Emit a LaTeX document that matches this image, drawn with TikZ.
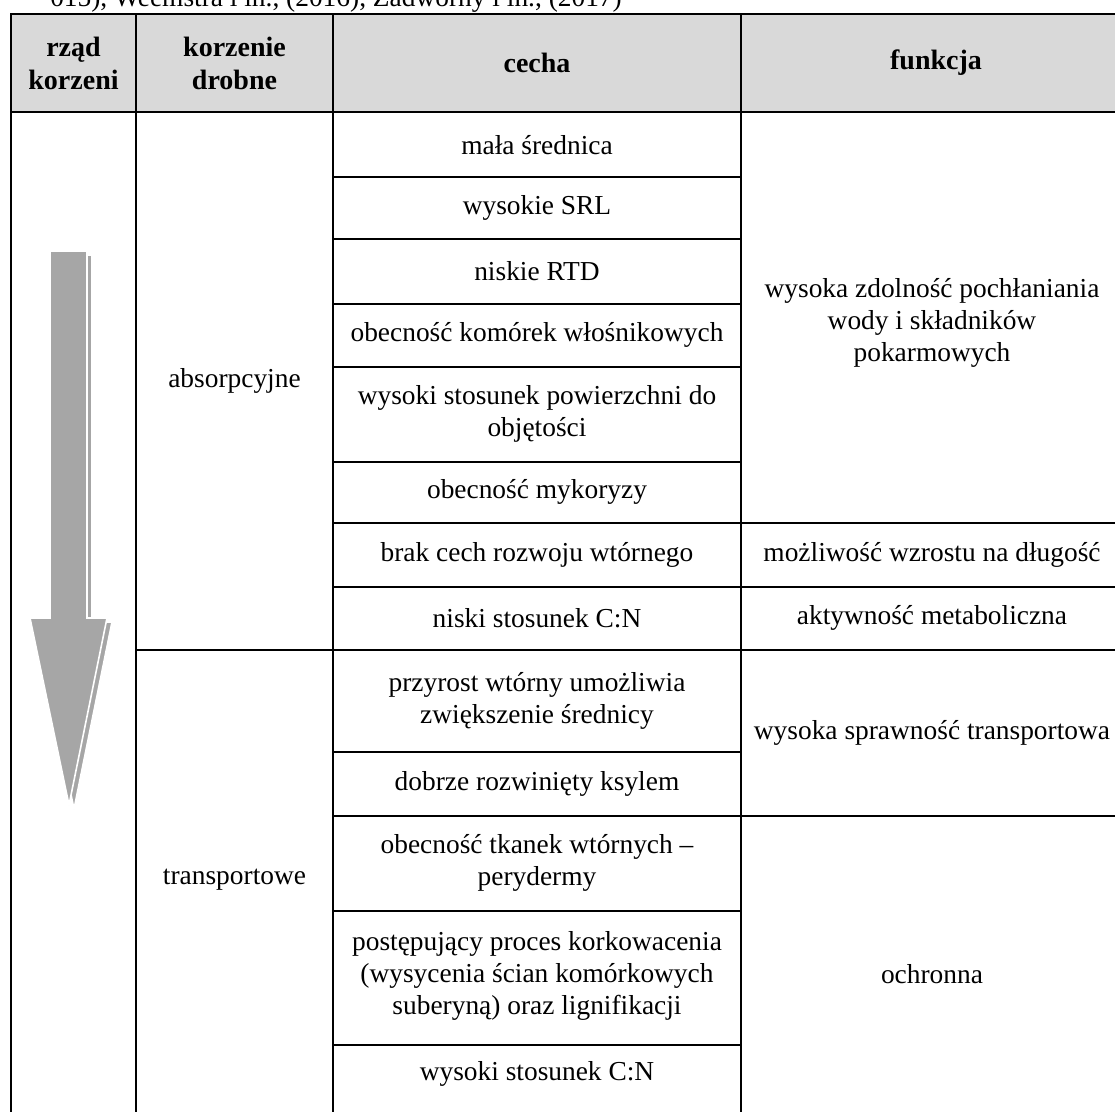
\documentclass[tikz,border=0pt]{standalone}
\usepackage{fontspec}
\setmainfont{Liberation Serif}
\usepackage{tikz}
\usetikzlibrary{positioning}
\definecolor{hdrgray}{RGB}{217,217,217}
\definecolor{arrgray}{RGB}{166,166,166}
\tikzstyle{cell} = [align=center, inner sep=0pt, font=\fontsize{27.4}{32}\selectfont]
\tikzstyle{hcell} = [align=center, inner sep=0pt, font=\fontsize{28}{33}\selectfont\bfseries]
\tikzstyle{rule} = [line width=2.2pt, line cap=rect]
\tikzstyle{bigarrow} = [fill=arrgray, draw=white, line width=1.6pt, line join=miter]

\begin{document}
\begin{tikzpicture}[x=1pt,y=-1pt]
\useasboundingbox (0,0) rectangle (1115,1111);
\clip (0,0) rectangle (1115,1111);
% Caption line cut by the page
\node[cell, anchor=base east] (src) at (622,6) {015), Weemstra i in., (2016), Zadworny i in., (2017)};
% Header
\fill[hdrgray] (11,14) rectangle (1130,112);
\node[hcell] (hrzad) at (73.5,63) {rząd\\korzeni};
\node[hcell] (hdrob) at (234.5,63) {korzenie\\drobne};
\node[hcell] (hcech) at (537,63) {cecha};
\node[hcell] (hfunk) at (936,63) {funkcja};
% Grid
\draw[rule] (11,1140) -- (11,14) -- (1130,14) -- (1130,1140);
\draw[rule] (11,112) -- (1130,112);
\foreach \x in {136,333,741}
  \draw[rule] (\x,14) -- (\x,1140);
\foreach \y in {177,239,304,367,462,523,587,650,752,816,911,1045}
  \draw[rule] (333,\y) -- (741,\y);
\foreach \y in {523,587,650,816}
  \draw[rule] (741,\y) -- (1130,\y);
\draw[rule] (136,650) -- (333,650);
% Arrow
\draw[bigarrow, shift={(5,4)}] (50,251) -- (87,251) -- (87,618) -- (107,618) -- (69,805) -- (30,618) -- (50,618) -- cycle;
\draw[bigarrow] (50,251) -- (87,251) -- (87,618) -- (107,618) -- (69,805) -- (30,618) -- (50,618) -- cycle;
% Root types
\node[cell] (abs) at (234.5,381) {absorpcyjne};
\node[cell] (tra) at (234.5,880) {transportowe};
% Traits
\node[cell] (c1) at (537,145) {mała średnica};
\node[cell] (c2) at (537,208) {wysokie SRL};
\node[cell] (c3) at (537,271) {niskie RTD};
\node[cell] (c4) at (537,335) {obecność komórek włośnikowych};
\node[cell] (c5) at (537,414) {wysoki stosunek powierzchni do\\objętości};
\node[cell] (c6) at (537,492) {obecność mykoryzy};
\node[cell] (c7) at (537,555) {brak cech rozwoju wtórnego};
\node[cell] (c8) at (537,618) {niski stosunek C:N};
\node[cell] (c9) at (537,701) {przyrost wtórny umożliwia\\zwiększenie średnicy};
\node[cell] (c10) at (537,784) {dobrze rozwinięty ksylem};
\node[cell] (c11) at (537,863) {obecność tkanek wtórnych –\\perydermy};
\node[cell] (c12) at (537,976) {postępujący proces korkowacenia\\(wysycenia ścian komórkowych\\suberyną) oraz lignifikacji};
\node[cell] (c13) at (537,1074) {wysoki stosunek C:N};
% Functions
\node[cell] (f1) at (932,323) {wysoka zdolność pochłaniania\\wody i składników\\pokarmowych};
\node[cell] (f2) at (932,555) {możliwość wzrostu na długość};
\node[cell] (f3) at (932,618) {aktywność metaboliczna};
\node[cell] (f4) at (932,733) {wysoka sprawność transportowa};
\node[cell] (f5) at (932,974) {ochronna};
\end{tikzpicture}
\end{document}
